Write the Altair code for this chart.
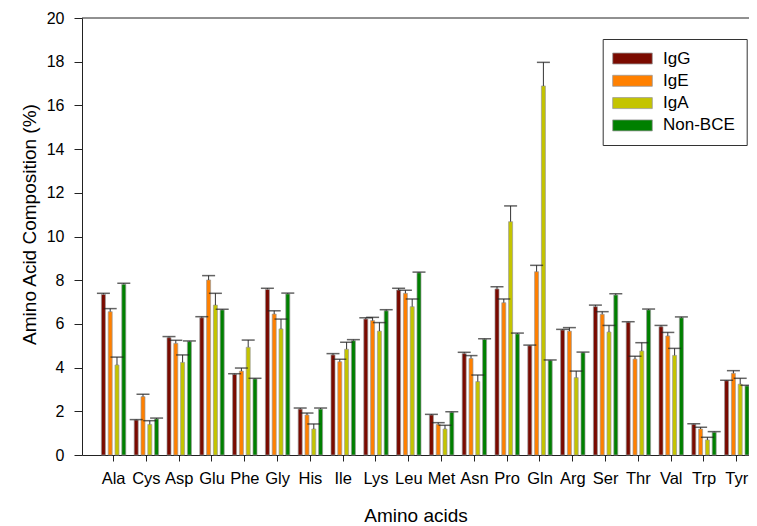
import altair as alt
import pandas as pd

amino = ["Ala", "Cys", "Asp", "Glu", "Phe", "Gly", "His", "Ile", "Lys", "Leu",
         "Met", "Asn", "Pro", "Gln", "Arg", "Ser", "Thr", "Val", "Trp", "Tyr"]
groups = ["IgG", "IgE", "IgA", "Non-BCE"]
colors = ["#7A0A00", "#FF8000", "#C4C400", "#008000"]

igg = [7.35, 1.60, 5.37, 6.28, 3.69, 7.58, 2.10, 4.58, 6.22, 7.55,
       1.83, 4.64, 7.60, 5.00, 5.72, 6.79, 6.07, 5.87, 1.40, 3.40]
igg_err = [0.05, 0.02, 0.05, 0.05, 0.03, 0.05, 0.05, 0.06, 0.06, 0.08,
           0.03, 0.06, 0.10, 0.03, 0.03, 0.07, 0.03, 0.06, 0.03, 0.02]
ige = [6.56, 2.67, 5.11, 8.01, 3.84, 6.45, 1.83, 4.27, 6.15, 7.40,
       1.40, 4.42, 6.97, 8.39, 5.67, 6.44, 4.39, 5.45, 1.19, 3.74]
ige_err = [0.14, 0.11, 0.14, 0.20, 0.14, 0.15, 0.09, 0.11, 0.15, 0.14,
           0.08, 0.13, 0.17, 0.29, 0.16, 0.12, 0.13, 0.16, 0.08, 0.12]
iga = [4.12, 1.40, 4.24, 6.86, 4.93, 5.77, 1.19, 4.84, 5.67, 6.79,
       1.19, 3.36, 10.68, 16.89, 3.54, 5.63, 4.76, 4.56, 0.69, 3.24]
iga_err = [0.36, 0.17, 0.34, 0.54, 0.33, 0.45, 0.23, 0.32, 0.39, 0.35,
           0.17, 0.30, 0.72, 1.08, 0.30, 0.30, 0.38, 0.32, 0.12, 0.27]
nonbce = [7.81, 1.65, 5.19, 6.64, 3.48, 7.37, 2.10, 5.23, 6.60, 8.34,
          1.95, 5.29, 5.54, 4.32, 4.68, 7.32, 6.64, 6.28, 1.04, 3.16]
nonbce_err = [0.05, 0.04, 0.03, 0.03, 0.03, 0.04, 0.05, 0.05, 0.05, 0.03,
              0.03, 0.03, 0.04, 0.03, 0.03, 0.06, 0.04, 0.04, 0.03, 0.03]

y_ticks = list(range(0, 21, 2))

rows = []
for g, vals, errs in zip(groups, [igg, ige, iga, nonbce],
                         [igg_err, ige_err, iga_err, nonbce_err]):
    for a, v, e in zip(amino, vals, errs):
        rows.append({"aa": a, "group": g, "value": v, "upper": round(v + e, 3)})
df = pd.DataFrame(rows)

FONT = "Liberation Sans"

x_enc = alt.X(
    "aa:N", sort=amino,
    scale=alt.Scale(paddingInner=0.256, paddingOuter=0.2957, align=1),
    axis=alt.Axis(title="Amino acids", labelAngle=0, tickSize=6, labelPadding=9,
                  labelFontSize=16.5, titleFontSize=19, titleFontWeight="normal",
                  titlePadding=20, labelColor="black", titleColor="black",
                  domainColor="#222", tickColor="#222"),
)
xo_enc = alt.XOffset("group:N", sort=groups,
                     scale=alt.Scale(paddingInner=0.41, paddingOuter=0))
y_scale = alt.Scale(domain=[0, 20], nice=False)

base = alt.Chart(df)

bars = base.mark_bar(stroke="#9a9a9a", strokeWidth=0.7).encode(
    x=x_enc,
    xOffset=xo_enc,
    y=alt.Y("value:Q", scale=y_scale,
            axis=alt.Axis(title="Amino Acid Composition (%)", values=y_ticks,
                          grid=False, tickSize=8, labelPadding=10,
                          labelFontSize=16, titleFontSize=19,
                          titleFontWeight="normal", titlePadding=7, titleY=206,
                          labelColor="black", titleColor="black",
                          domainColor="#222", tickColor="#222")),
    color=alt.Color("group:N", sort=groups,
                    scale=alt.Scale(domain=groups, range=colors),
                    legend=alt.Legend(
                        title=None, orient="none", legendX=520.7, legendY=21,
                        padding=11, strokeColor="#333", fillColor="white",
                        symbolType="M-3.6,-1L3.6,-1L3.6,1L-3.6,1Z",
                        symbolSize=121, symbolOffset=10.3, labelOffset=22,
                        symbolStrokeColor="#9a9a9a", symbolStrokeWidth=0.8,
                        symbolOpacity=1, labelFontSize=17, labelColor="black",
                        rowPadding=4.3)),
)

err = base.mark_rule(color="#333", strokeWidth=1).encode(
    x=x_enc, xOffset=xo_enc, y=alt.Y("value:Q", scale=y_scale), y2="upper:Q"
)

cap = base.mark_tick(color="#222", thickness=1.5, size=13, orient="horizontal").encode(
    x=x_enc, xOffset=xo_enc, y=alt.Y("upper:Q", scale=y_scale)
)

top_line = alt.Chart(pd.DataFrame({"v": [20]})).mark_rule(
    color="#222", strokeWidth=1).encode(y=alt.Y("v:Q", scale=y_scale))

chart = alt.layer(bars, err, cap, top_line).properties(
    width=667, height=437,
    padding={"left": 74, "top": 10, "right": 0, "bottom": 71},
    autosize=alt.AutoSizeParams(type="none"),
).configure(font=FONT).configure_view(stroke=None)

chart.save("out.html", embed_options={"renderer": "svg", "actions": False})
